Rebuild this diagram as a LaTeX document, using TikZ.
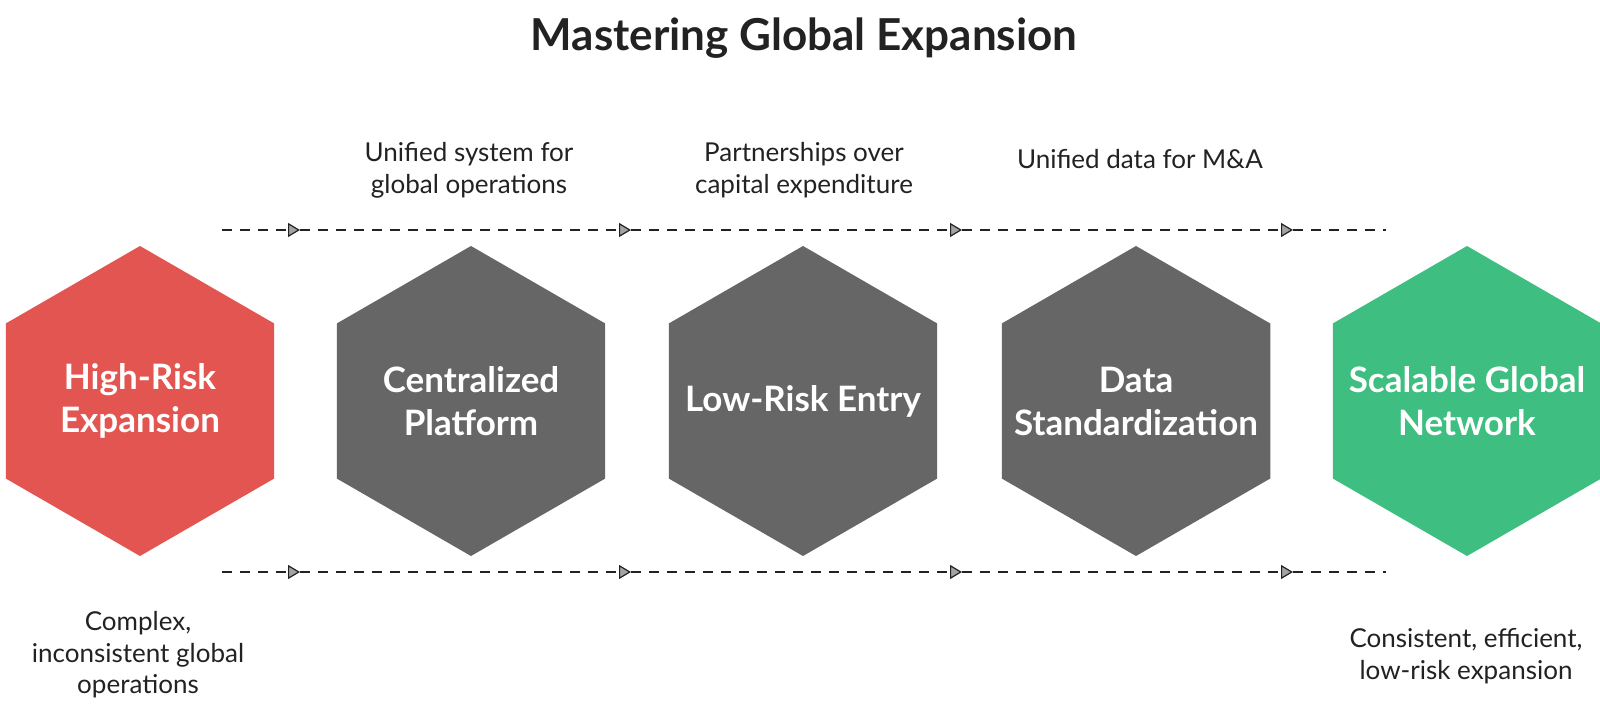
\documentclass[tikz,border=0pt]{standalone}
\usepackage{fontspec}
\setmainfont{Lato}
\usetikzlibrary{shapes.geometric,arrows.meta}
\definecolor{riskred}{RGB}{227,85,80}
\definecolor{stepgray}{RGB}{102,102,102}
\definecolor{goodgreen}{RGB}{62,190,128}
\definecolor{inkdark}{RGB}{34,34,34}
\tikzset{
  hexa/.style={regular polygon,regular polygon sides=6,shape border rotate=30,
    minimum size=155pt,inner sep=-45pt,text=white,align=center,
    font=\fontsize{17.5}{21.5}\selectfont\bfseries},
  note/.style={align=center,text=inkdark,font=\fontsize{13}{15.8}\selectfont},
  flow/.style={draw=inkdark,line width=0.75pt,dash pattern=on 5pt off 4pt},
  tip/.style={-{Triangle[length=6pt,width=7pt,fill=stepgray!60,line width=0.6pt]}}
}
\begin{document}
\begin{tikzpicture}[x=0.5pt,y=-0.5pt]
      \useasboundingbox (0,0) rectangle (1600,727);
      \fill[white] (0,0) rectangle (1600,727);
      \node[font=\fontsize{22}{26}\selectfont\bfseries,text=inkdark] (title) at (804,38) {Mastering Global Expansion};
      \node[hexa,fill=riskred] (0) at (140,401) {High-Risk\\Expansion};
      \node[hexa,fill=stepgray] (1) at (471,401) {Centralized\\Platform};
      \node[hexa,fill=stepgray] (2) at (803,401) {Low-Risk Entry};
      \node[hexa,fill=stepgray] (3) at (1136,401) {Data\\Standardization};
      \node[hexa,fill=goodgreen] (4) at (1467,401) {Scalable Global\\Network};
      \node[note] (n1) at (469,170) {Unified system for\\global operations};
      \node[note] (n2) at (804,170) {Partnerships over\\capital expenditure};
      \node[note] (n3) at (1140,159) {Unified data for M\&A};
      \node[note] (n0) at (138,655) {Complex,\\inconsistent global\\operations};
      \node[note] (n4) at (1466,656) {Consistent, efficient,\\low-risk expansion};
      % top track
      \coordinate (t0) at (222,230);
      \coordinate (t1) at (300,230);
      \coordinate (t2) at (631,230);
      \coordinate (t3) at (962,230);
      \coordinate (t4) at (1293,230);
      \coordinate (t5) at (1386,230);
      % bottom track
      \coordinate (b0) at (222,572);
      \coordinate (b1) at (300,572);
      \coordinate (b2) at (631,572);
      \coordinate (b3) at (962,572);
      \coordinate (b4) at (1293,572);
      \coordinate (b5) at (1386,572);
      \begin{scope}[flow]
        \draw[tip] (t0) to (t1);
        \draw[tip] (t1) to (t2);
        \draw[tip] (t2) to (t3);
        \draw[tip] (t3) to (t4);
        \draw (t4) to (t5);
        \draw[tip] (b0) to (b1);
        \draw[tip] (b1) to (b2);
        \draw[tip] (b2) to (b3);
        \draw[tip] (b3) to (b4);
        \draw (b4) to (b5);
      \end{scope}
    \end{tikzpicture}
\end{document}
